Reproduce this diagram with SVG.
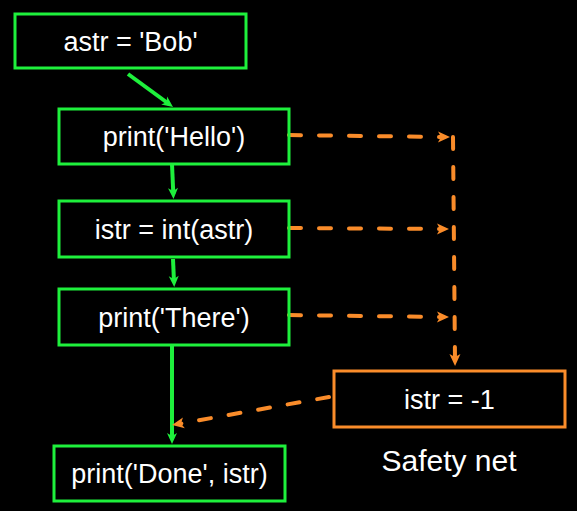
<svg xmlns="http://www.w3.org/2000/svg" width="577" height="511" viewBox="0 0 577 511">
<style>
.bg{fill:#000}
.gbox{fill:none;stroke:#1EF03C;stroke-width:3}
.obox{fill:none;stroke:#FA8C2A;stroke-width:3}
.t{font-family:"Liberation Sans",Arial,sans-serif;font-size:27px;fill:#fff;text-anchor:middle}
.lbl{font-size:30px}
.g{stroke:#1EF03C;stroke-width:4;fill:none;marker-end:url(#ga)}
.o{stroke:#FA8C2A;stroke-width:4;fill:none;stroke-dasharray:12 18;stroke-linecap:round;marker-end:url(#oa)}
</style>
<defs>
<marker id="ga" markerUnits="userSpaceOnUse" markerWidth="12" markerHeight="12" refX="6" refY="5" orient="auto" overflow="visible">
<path d="M0,0 L11,5 L0,10 L3,5 z" fill="#1EF03C"/>
</marker>
<marker id="oa" markerUnits="userSpaceOnUse" markerWidth="13" markerHeight="12" refX="6" refY="5.5" orient="auto" overflow="visible">
<path d="M0,0 L12,5.5 L0,11 L3,5.5 z" fill="#FA8C2A"/>
</marker>
</defs>
<rect class="bg" x="0" y="0" width="577" height="511"/>
<g id="connectors">
<line class="g" x1="128" y1="74" x2="169" y2="104"/>
<line class="g" x1="172" y1="164" x2="173.3" y2="194"/>
<line class="g" x1="173" y1="259" x2="174" y2="282"/>
<line class="g" x1="172" y1="346" x2="172" y2="439"/>
<line class="o" x1="289" y1="135" x2="444" y2="137"/>
<line class="o" x1="289" y1="228" x2="443" y2="229"/>
<line class="o" x1="289" y1="315" x2="443" y2="317"/>
<line class="o" x1="453" y1="137" x2="455" y2="360"/>
<line class="o" x1="329" y1="397" x2="178" y2="424"/>
</g>
<g id="n1"><rect class="gbox" x="15" y="14" width="231" height="54"/><text class="t" x="130.5" y="50.5">astr = 'Bob'</text></g>
<g id="n2"><rect class="gbox" x="59" y="109" width="230" height="55"/><text class="t" x="174" y="146">print('Hello')</text></g>
<g id="n3"><rect class="gbox" x="59" y="201" width="230" height="56"/><text class="t" x="174" y="238.5">istr = int(astr)</text></g>
<g id="n4"><rect class="gbox" x="59" y="289" width="230" height="56"/><text class="t" x="174" y="326.5">print('There')</text></g>
<g id="n5"><rect class="gbox" x="54" y="446" width="231" height="55"/><text class="t" x="169.5" y="483">print('Done', istr)</text></g>
<g id="n6"><rect class="obox" x="334" y="371" width="231" height="56"/><text class="t" x="449.5" y="408.5">istr = -1</text></g>
<g id="label"><text class="t lbl" x="449" y="471">Safety net</text></g>
</svg>
